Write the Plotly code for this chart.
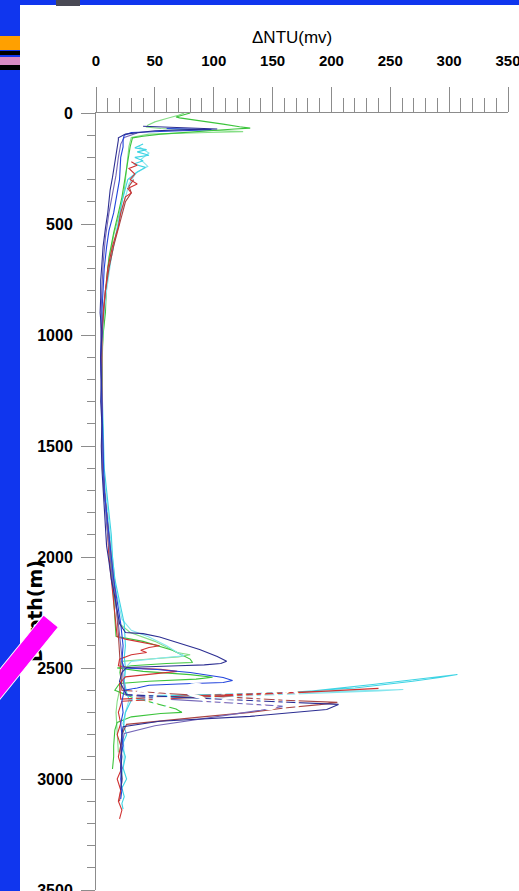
import plotly.graph_objects as go

# ---------------- profile data: depth (m) and ΔNTU (mv) ----------------
depth_navy = [
    60, 65, 68, 72, 75, 80, 95, 112, 122, 160,
    225, 290, 347, 400, 450, 520, 603, 680, 752, 830,
    900, 990, 1100, 1200, 1300, 1400, 1500, 1600, 1700, 1800,
    1880, 1950, 2020, 2100, 2180, 2250, 2300, 2340, 2345, 2360,
    2385, 2417, 2448, 2470, 2480, 2486, 2490, 2494, 2498, 2520,
    2560, 2600, 2620, 2642, 2660, 2664, 2687, 2718, 2740, 2765,
    2800, 2850, 2900, 2950, 3000, 3050]
ntu_navy = [
    40, 70, 95, 103, 80, 50, 25, 19, 19, 18,
    16, 14, 12, 11, 10, 8, 6, 5, 4, 4,
    3.5, 5, 4, 4.5, 4, 5, 4.5, 5, 6, 7,
    8, 9, 11, 13, 16, 18, 20, 25, 40, 54,
    69, 88, 103, 111, 106, 92, 70, 45, 26, 22,
    20, 24, 26, 111, 190, 206, 196, 131, 54, 23,
    22, 21, 22, 21, 22, 21]

depth_blue = [
    70, 74, 78, 82, 88, 100, 120, 153, 200, 300,
    380, 450, 530, 603, 700, 800, 900, 1000, 1100, 1200,
    1300, 1400, 1500, 1600, 1700, 1800, 1900, 2000, 2100, 2200,
    2300, 2400, 2470, 2500, 2507, 2520, 2543, 2556, 2565, 2572,
    2578, 2590, 2600, 2650, 2700, 2750, 2800, 2850, 2900, 2950,
    3000, 3050, 3090]
ntu_blue = [
    60, 98, 85, 55, 30, 24, 23, 23, 21, 20,
    17, 15, 11, 9, 7, 6, 5, 5, 4, 4.5,
    5, 5, 5.5, 6, 7, 9, 11, 13, 15, 18,
    21, 23, 22, 24, 52, 80, 108, 116, 108, 70,
    45, 35, 24, 22, 23, 21, 22, 23, 21, 22,
    21, 22, 21]

depth_green = [
    0, 10, 18, 22, 35, 50, 62, 68, 72, 78,
    86, 95, 105, 112, 153, 220, 300, 380, 450, 540,
    650, 750, 900, 1000, 1100, 1200, 1300, 1400, 1500, 1600,
    1700, 1760, 1800, 1900, 2000, 2100, 2200, 2300, 2357, 2380,
    2420, 2460, 2475, 2480, 2490, 2500, 2515, 2530, 2542, 2550,
    2560, 2570, 2600, 2630, 2660, 2685, 2700, 2705, 2720, 2745,
    2780, 2850, 2900, 2955]
ntu_green = [
    80, 72, 68, 71, 90, 108, 122, 131, 118, 100,
    80, 55, 40, 31, 29, 27, 25, 22, 19, 15,
    11, 9, 8, 6, 5, 5.5, 5, 5, 6, 6,
    7, 8, 9, 11, 12, 14, 15, 16, 17, 40,
    65, 80, 82, 60, 30, 18, 40, 80, 99, 85,
    45, 20, 16, 30, 50, 68, 73, 55, 30, 18,
    16, 15, 15, 14]

depth_lgreen = [
    0, 10, 25, 40, 55, 63, 70, 76, 80, 84,
    88, 95, 110, 150, 250, 350, 450, 550, 700, 850,
    1000, 1150, 1300, 1450, 1600, 1750, 1900, 2050, 2200, 2300,
    2340, 2380, 2410, 2430, 2440, 2450, 2462, 2470, 2520, 2560,
    2600, 2650, 2700, 2800, 2880]
ntu_lgreen = [
    75, 70, 60, 50, 44, 43, 55, 80, 110, 125,
    95, 45, 30, 28, 26, 24, 20, 15, 10, 8,
    6, 5, 5, 6, 6, 8, 10, 13, 16, 20,
    29, 50, 62, 69, 80, 70, 40, 22, 20, 22,
    20, 18, 17, 18, 19]

depth_cyan = [
    140, 157, 165, 175, 190, 200, 215, 230, 245, 266,
    300, 400, 495, 600, 700, 800, 900, 1000, 1100, 1200,
    1300, 1400, 1500, 1600, 1700, 1800, 1900, 2000, 2100, 2200,
    2300, 2400, 2450, 2500, 2560, 2610, 2640, 2625, 2618, 2610,
    2574, 2538, 2529, 2543, 2560, 2590, 2615, 2630, 2645, 2700,
    2750, 2800, 2850, 2900, 2950, 3000, 3040, 3080, 3110, 3136]
ntu_cyan = [
    40, 33, 43, 35, 45, 33, 40, 32, 42, 35,
    27, 22, 19, 15, 11, 8, 6, 5, 4.5, 5,
    5.5, 6, 6, 7, 9, 11, 13, 14, 16, 20,
    24, 25, 24, 25, 24, 26, 28, 60, 120, 173,
    235, 292, 307, 292, 269, 220, 150, 80, 30, 25,
    23, 26, 22, 25, 23, 26, 22, 24, 22, 23]

depth_lcyan = [
    150, 180, 210, 240, 270, 320, 420, 520, 650, 800,
    950, 1100, 1250, 1400, 1550, 1700, 1850, 2000, 2150, 2280,
    2330, 2360, 2400, 2430, 2445, 2455, 2470, 2500, 2560, 2600,
    2625, 2620, 2610, 2600, 2597, 2603, 2615, 2630, 2645, 2700,
    2800, 2900, 3000]
ntu_lcyan = [
    36, 45, 38, 44, 34, 28, 23, 18, 13, 9,
    6, 5, 5, 5.5, 6, 8, 11, 14, 17, 22,
    30, 45, 60, 69, 75, 55, 30, 25, 24, 25,
    27, 100, 180, 240, 261, 240, 180, 100, 28, 25,
    23, 24, 22]

depth_red = [
    220, 235, 250, 275, 300, 320, 340, 360, 378, 450,
    513, 600, 700, 800, 900, 1000, 1100, 1200, 1300, 1400,
    1500, 1600, 1700, 1800, 1900, 2000, 2100, 2200, 2300, 2360,
    2371, 2385, 2400, 2408, 2420, 2430, 2440, 2460, 2490, 2500,
    2506, 2515, 2525, 2540, 2570, 2640, 2625, 2612, 2600, 2592,
    2598, 2610, 2625, 2640, 2650, 2700, 2750, 2800, 2850, 2900,
    2950, 3000, 3050, 3100, 3140, 3180]
ntu_red = [
    30, 35, 28, 33, 29, 35, 27, 30, 25, 21,
    19, 14, 10, 8, 6, 5, 5, 4.5, 5, 5.5,
    5, 6, 7, 9, 10, 11, 13, 15, 17, 18,
    26, 40, 54, 45, 38, 43, 30, 20, 19, 30,
    55, 69, 50, 25, 20, 21, 80, 160, 210, 240,
    225, 175, 110, 50, 22, 19, 21, 18, 21, 19,
    22, 18, 21, 19, 22, 20]

depth_dred = [
    300, 330, 360, 400, 460, 520, 600, 700, 800, 900,
    1000, 1150, 1300, 1450, 1600, 1750, 1900, 2050, 2200, 2350,
    2450, 2550, 2600, 2615, 2630, 2645, 2655, 2665, 2680, 2700,
    2720, 2740, 2754, 2800, 2900, 3000, 3100]
ntu_dred = [
    32, 28, 30, 25, 22, 19, 15, 11, 8, 6.5,
    5, 4.5, 5, 5.5, 6, 8, 11, 14, 17, 19,
    20, 21, 22, 60, 110, 160, 205, 190, 160, 131,
    90, 50, 26, 22, 21, 22, 20]

depth_purple = [
    90, 110, 140, 200, 280, 360, 450, 560, 680, 800,
    950, 1100, 1250, 1400, 1550, 1700, 1850, 2000, 2150, 2300,
    2450, 2550, 2620, 2640, 2660, 2672, 2690, 2720, 2760, 2795,
    2850, 2950, 3020]
ntu_purple = [
    35, 24, 21, 19, 17, 14, 11, 8, 6, 5,
    4, 4, 4.5, 5, 5.5, 7, 9, 12, 15, 19,
    22, 23, 25, 60, 120, 160, 140, 100, 50, 24,
    22, 21, 22]

profiles = [
    (depth_lgreen, ntu_lgreen, "#86de86"),
    (depth_green, ntu_green, "#3cc43c"),
    (depth_lcyan, ntu_lcyan, "#86e6ee"),
    (depth_cyan, ntu_cyan, "#3ed4e4"),
    (depth_dred, ntu_dred, "#a84444"),
    (depth_red, ntu_red, "#d03232"),
    (depth_purple, ntu_purple, "#7466b8"),
    (depth_blue, ntu_blue, "#2244dd"),
    (depth_navy, ntu_navy, "#2c2e92"),
]

x_ticks = [0, 50, 100, 150, 200, 250, 300, 350]
y_ticks = [0, 500, 1000, 1500, 2000, 2500, 3000, 3500]

# ---------------- page geometry ----------------
W, H = 519, 891
ML, MR, MT, MB = 96, 11, 113, 1
PW, PH = W - ML - MR, H - MT - MB


def fx(px):
    return (px - ML) / PW


def fy(py):
    return (H - MB - py) / PH


AXIS = "#8c8c8c"
SLIDE_BLUE = "#1036ee"
X_TICK_FONT = dict(family="Liberation Sans, Arial", size=15, color="black", weight="bold")
Y_TICK_FONT = dict(family="Liberation Sans, Arial", size=16, color="black", weight="bold")

fig = go.Figure()
for d, v, c in profiles:
    fig.add_trace(go.Scatter(x=v, y=d, mode="lines",
                             line=dict(color=c, width=1.1), hoverinfo="skip"))

fig.update_layout(
    width=W, height=H,
    margin=dict(l=ML, r=MR, t=MT, b=MB, pad=0),
    paper_bgcolor="white", plot_bgcolor="white",
    showlegend=False,
)

fig.update_xaxes(
    range=[0, 350], side="top", tickmode="array", tickvals=x_ticks,
    ticks="outside", ticklen=25, tickwidth=1, tickcolor=AXIS,
    showline=True, linecolor=AXIS, linewidth=1,
    showgrid=False, zeroline=False, automargin=False,
    tickfont=X_TICK_FONT, ticklabelstandoff=15, ticklabeloverflow="allow",
    minor=dict(tickmode="linear", tick0=0, dtick=10, ticks="outside",
               ticklen=14, tickwidth=1, tickcolor=AXIS, showgrid=False),
)
fig.update_yaxes(
    range=[3500, 0], tickmode="array", tickvals=y_ticks,
    ticks="outside", ticklen=14, tickwidth=1, tickcolor=AXIS,
    showline=True, linecolor=AXIS, linewidth=1,
    showgrid=False, zeroline=False, automargin=False,
    tickfont=Y_TICK_FONT, ticklabelstandoff=5, ticklabeloverflow="allow",
    minor=dict(tickmode="linear", tick0=0, dtick=100, ticks="outside",
               ticklen=8, tickwidth=1, tickcolor=AXIS, showgrid=False),
)

# ---------------- slide decoration ----------------
shapes = [
    # blue frame: left column and top strip
    dict(type="rect", xref="paper", yref="paper", x0=fx(0), x1=fx(20), y0=fy(H + 5), y1=fy(-5),
         fillcolor=SLIDE_BLUE, line=dict(width=0), layer="above"),
    dict(type="rect", xref="paper", yref="paper", x0=fx(0), x1=fx(W + 5), y0=fy(5), y1=fy(-5),
         fillcolor=SLIDE_BLUE, line=dict(width=0), layer="above"),
    # small dark tab on the top strip
    dict(type="rect", xref="paper", yref="paper", x0=fx(56), x1=fx(80), y0=fy(6), y1=fy(-5),
         fillcolor="#4a4a55", line=dict(width=0), layer="above"),
    # colour bars on the left edge
    dict(type="rect", xref="paper", yref="paper", x0=fx(0), x1=fx(20), y0=fy(50), y1=fy(36),
         fillcolor="#ffa000", line=dict(width=0), layer="above"),
    dict(type="rect", xref="paper", yref="paper", x0=fx(0), x1=fx(20), y0=fy(55), y1=fy(51),
         fillcolor="black", line=dict(width=0), layer="above"),
    dict(type="rect", xref="paper", yref="paper", x0=fx(0), x1=fx(20), y0=fy(65), y1=fy(57),
         fillcolor="#d98cc4", line=dict(width=0), layer="above"),
    dict(type="rect", xref="paper", yref="paper", x0=fx(0), x1=fx(20), y0=fy(70), y1=fy(65),
         fillcolor="black", line=dict(width=0), layer="above"),
]
fig.update_layout(shapes=shapes)

annotations = [
    # x-axis title
    dict(text="ΔNTU(mv)", xref="paper", yref="paper", x=fx(292), y=fy(38),
         xanchor="center", yanchor="middle", showarrow=False,
         font=dict(family="Liberation Sans, Arial", size=17, color="black")),
    # y-axis title
    dict(text="Depth(m)", xref="paper", yref="paper", x=fx(35), y=fy(611),
         xanchor="center", yanchor="middle", showarrow=False, textangle=-90,
         font=dict(family="DejaVu Sans", size=19, color="black", weight="bold")),
    # magenta slide bar over the title
    dict(text=" ", xref="paper", yref="paper", x=fx(19.5), y=fy(660),
         xanchor="center", yanchor="middle", showarrow=False, textangle=-51,
         width=98, height=18, bgcolor="#ff00ff", bordercolor="white",
         borderwidth=1, borderpad=0, font=dict(size=4)),
    # white slide caption across the plot
    dict(text="ne Station", xref="paper", yref="paper", x=fx(303), y=fy(697),
         xanchor="right", yanchor="middle", showarrow=False,
         font=dict(family="Liberation Sans", size=38, color="white")),
]
fig.update_layout(annotations=annotations)

fig.write_html("out.html")
